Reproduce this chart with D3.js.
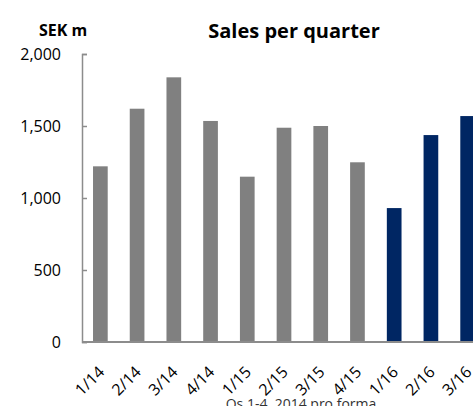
<!DOCTYPE html>
<html>
<head>
<meta charset="utf-8">
<script src="https://cdn.jsdelivr.net/npm/d3@7"></script>
<style>
  html, body { margin: 0; padding: 0; background: #fff; }
  svg { display: block; font-family: "Open Sans", "Liberation Sans", sans-serif; }
</style>
</head>
<body>
<svg id="chart" width="473" height="406"></svg>
<script>
// Quarterly sales, SEK m
const quarters = ["1/14", "2/14", "3/14", "4/14", "1/15", "2/15", "3/15", "4/15", "1/16", "2/16", "3/16"];
const sales = [1220, 1620, 1838, 1535, 1148, 1488, 1500, 1248, 930, 1437, 1569];
// Quarters reported in the current year are highlighted
const highlighted = ["1/16", "2/16", "3/16"];
const yTicks = [0, 500, 1000, 1500, 2000];

const svg = d3.select("#chart");
const plotLeft = 82, plotRight = 486, plotTop = 54, plotBottom = 342;

const x = d3.scaleBand().domain(quarters).range([plotLeft, plotRight]).paddingInner(0.6).paddingOuter(0.3);
const y = d3.scaleLinear().domain([0, 2000]).range([plotBottom, plotTop]);

// Bars
svg.append("g").selectAll("rect").data(quarters).join("rect")
  .attr("x", d => x(d))
  .attr("width", x.bandwidth())
  .attr("y", (d, i) => y(sales[i]))
  .attr("height", (d, i) => y(0) - y(sales[i]))
  .attr("fill", d => highlighted.includes(d) ? "#002663" : "#808080");

// Y axis with inward ticks
const yAxis = svg.append("g").attr("transform", `translate(${plotLeft},0)`)
  .call(d3.axisLeft(y).tickValues(yTicks).tickSize(-5).tickFormat(d3.format(",")).tickPadding(21));
yAxis.select(".domain").attr("stroke", "#8c8c8c").attr("stroke-width", 1.5);
yAxis.selectAll(".tick line").attr("stroke", "#8c8c8c").attr("stroke-width", 1.5);
yAxis.selectAll(".tick text").attr("font-size", 16).attr("fill", "#000")
  .attr("font-family", "'Open Sans', sans-serif");

// X axis baseline
svg.append("line")
  .attr("x1", plotLeft).attr("x2", 473)
  .attr("y1", y(0)).attr("y2", y(0))
  .attr("stroke", "#8c8c8c").attr("stroke-width", 2);

// Rotated quarter labels
svg.append("g").selectAll("text").data(quarters).join("text")
  .attr("transform", d => `translate(${x(d) + x.bandwidth() / 2 + 5},${y(0) + 31}) rotate(-45)`)
  .attr("text-anchor", "end")
  .attr("font-size", 16)
  .attr("fill", "#000")
  .text(d => d);

// Titles
svg.append("text").attr("x", 39).attr("y", 36)
  .attr("font-size", 16).attr("font-weight", "bold").attr("fill", "#000")
  .text("SEK m");
svg.append("text").attr("x", 294).attr("y", 38).attr("text-anchor", "middle")
  .attr("font-size", 20).attr("font-weight", "bold").attr("fill", "#000")
  .text("Sales per quarter");

// Footnote
svg.append("text").attr("x", 301).attr("y", 409).attr("text-anchor", "middle")
  .attr("font-size", 14).attr("fill", "#333")
  .text("Qs 1-4, 2014 pro forma");
</script>
</body>
</html>
